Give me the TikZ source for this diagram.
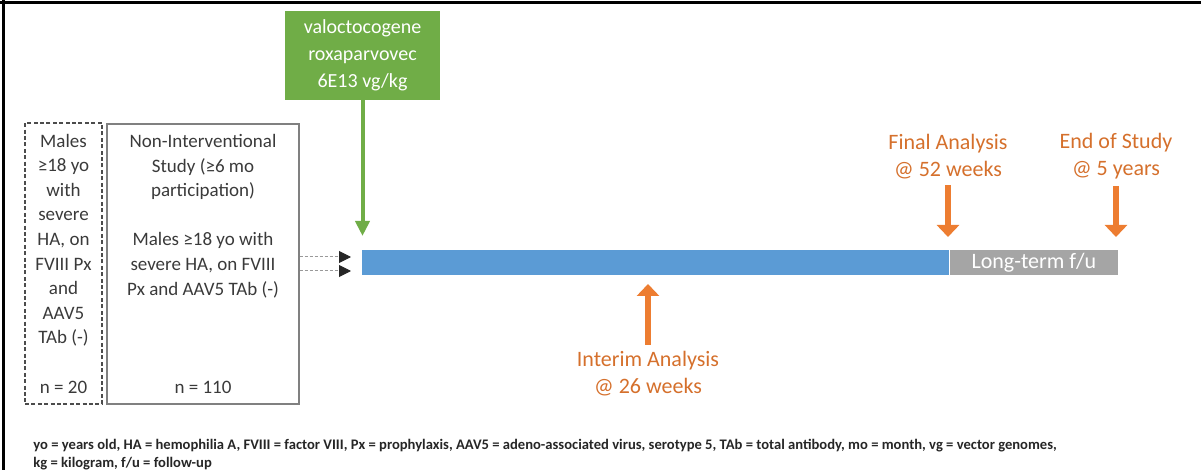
\documentclass[tikz,border=0pt]{standalone}
\usepackage{fontspec}
\setmainfont{Carlito}
\usetikzlibrary{arrows.meta}
\definecolor{drugGreen}{HTML}{70AD47}
\definecolor{barBlue}{HTML}{5B9BD5}
\definecolor{fuGray}{HTML}{A5A5A5}
\definecolor{mileOrange}{HTML}{ED7D31}
\definecolor{boxText}{HTML}{3A3A3A}
\tikzset{
  cohort/.style={align=center, text=boxText, inner sep=0pt, line width=0.6pt,
    font=\fontsize{9.5}{12.3}\selectfont},
  phase/.style={minimum height=12.5pt, inner sep=0pt, text=white,
    font=\fontsize{11}{12}\selectfont},
  mile/.style={align=center, text=mileOrange!90!black, inner sep=3pt,
    font=\fontsize{11}{13.5}\selectfont},
  dose/.style={draw=drugGreen, line width=2pt, -{Triangle[width=7pt,length=7.5pt]}},
  milestone/.style={draw=mileOrange, line width=3pt, -{Triangle[width=11pt,length=6pt]}},
  feed/.style={draw=black!40, line width=0.5pt, dash pattern=on 1.5pt off 1pt,
    -{Triangle[width=6pt,length=6pt,color=black!85]}}
}

\begin{document}
\begin{tikzpicture}[x=0.5pt, y=-0.5pt]
  %%%%% START %%%%%
  \useasboundingbox (0,0) rectangle (1201,470);
  \draw[line width=1.5pt] (0,3) -- (1201,3);
  \draw[line width=1.5pt] (3,0) -- (3,470);

  % cohorts
  \node[cohort, draw=black!70, dash pattern=on 2pt off 1.2pt, minimum width=38.5pt, minimum height=140.5pt] (elig) at (63.5,263.5)
    {Males\\≥18 yo\\with\\severe\\HA, on\\FVIII Px\\and\\AAV5\\TAb (-)\\~\\n = 20};
  \node[cohort, draw=black!50, minimum width=96pt, minimum height=140pt] (nis) at (203,264)
    {Non-Interventional\\Study (≥6 mo\\participation)\\~\\Males ≥18 yo with\\severe HA, on FVIII\\Px and AAV5 TAb (-)\\~\\~\\~\\n = 110};

  % dosing
  \node[fill=drugGreen, text=white, align=center, minimum width=77.5pt, minimum height=44.5pt, inner sep=0pt,
    font=\fontsize{10}{13.5}\selectfont] (drug) at (362.5,55.5) {valoctocogene\\roxaparvovec\\6E13 vg/kg};

  % timeline
  \node[phase, fill=barBlue, minimum width=293.5pt] (tx) at (655.5,262.5) {};
  \node[phase, fill=fuGray, minimum width=84pt, anchor=west] (lt) at (tx.east) {Long-term f/u};

  \coordinate (dosetip) at (363,236);
  \draw[dose] (drug.south) -- (drug.south |- dosetip);

  \coordinate (feedA) at (351,257);
  \coordinate (feedB) at (351,271);
  \draw[feed] (nis.east |- feedA) -- (feedA);
  \draw[feed] (nis.east |- feedB) -- (feedB);

  % analyses
  \node[mile] (interim) at (648,373.5) {Interim Analysis\\@ 26 weeks};
  \node[mile] (final) at (948,156.5) {Final Analysis\\@ 52 weeks};
  \node[mile] (eos) at (1116,156.5) {End of Study\\@ 5 years};
  \coordinate (interimtip) at (0,284);
  \coordinate (finaltip) at (0,237);
  \draw[milestone] (interim.north) -- (interim.north |- interimtip);
  \draw[milestone] (final.south) -- (final.south |- finaltip);
  \draw[milestone] (eos.south) -- (eos.south |- finaltip);

  % abbreviations
  \node[anchor=north west, align=left, inner sep=0pt, text=black!85, font=\fontsize{7.3}{9}\selectfont\bfseries] (abbr) at (33,439)
    {yo = years old, HA = hemophilia A, FVIII = factor VIII, Px = prophylaxis, AAV5 = adeno-associated virus, serotype 5, TAb = total antibody, mo = month, vg = vector genomes,\\kg = kilogram, f/u = follow-up};
  %%%%% END %%%%%
\end{tikzpicture}
\end{document}
